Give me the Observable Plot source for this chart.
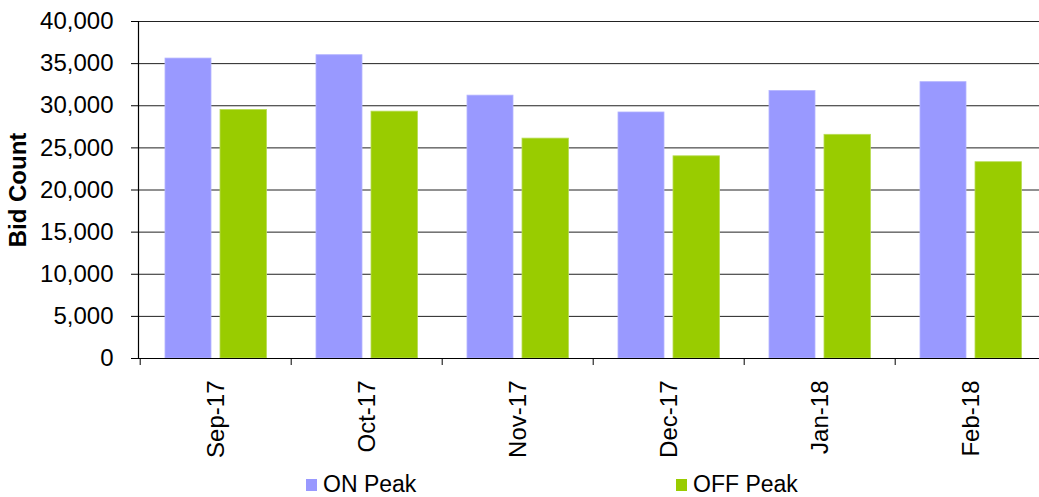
<!DOCTYPE html>
<html><head><meta charset="utf-8">
<script src="https://cdn.jsdelivr.net/npm/d3@7"></script>
<script src="https://cdn.jsdelivr.net/npm/@observablehq/plot@0.6"></script>
<style>
html,body{margin:0;padding:0;background:#fff;overflow:hidden;font-family:"Liberation Sans",Arial,sans-serif;}
#legend{position:relative;height:27px;width:1039px;}
.sw{position:absolute;width:11px;height:12px;}
.lt{position:absolute;font-size:23px;line-height:23px;color:#000;white-space:nowrap;}
</style>
</head><body><div id="chart"></div><div id="legend"></div>
<script>
const months = ["Sep-17","Oct-17","Nov-17","Dec-17","Jan-18","Feb-18"];
const onPeak = [35600,36000,31200,29200,31750,32800];
const offPeak = [29500,29300,26100,24000,26550,23300];
const seriesNames = ["ON Peak","OFF Peak"];
const seriesColors = ["#9999FF","#99CC00"];
const yTicks = [0,5000,10000,15000,20000,25000,30000,35000,40000];
const yLabel = "Bid Count";

const onData = months.map((m,i)=>({month:m, value:onPeak[i]}));
const offData = months.map((m,i)=>({month:m, value:offPeak[i]}));

const W = 1039, H = 470;
const x0 = 138.3, x1 = 1048;
const bw = (x1 - x0) / months.length;

const chart = Plot.plot({
  width: W, height: H,
  marginLeft: 138, marginRight: 0, marginTop: 21, marginBottom: 112,
  style: {fontFamily: '"Liberation Sans", Arial, sans-serif', fontSize: "24px", color: "#000", background: "#fff"},
  x: {domain: months, range: [x0, x1], padding: 0, label: null},
  y: {domain: [0, 40000], range: [358, 21], label: null},
  marks: [
    Plot.gridY(yTicks, {stroke: "#222", strokeOpacity: 1, strokeWidth: 1}),
    Plot.barY(onData, {x: "month", y: "value", fill: seriesColors[0], insetLeft: 25, insetRight: 80, stroke: "#b3b3ff", strokeWidth: 0.8}),
    Plot.barY(offData, {x: "month", y: "value", fill: seriesColors[1], insetLeft: 80, insetRight: 24.5, stroke: "#b8dd55", strokeWidth: 0.8}),
    Plot.ruleY([0], {stroke: "#000", strokeWidth: 1.2}),
    Plot.frame({anchor: "left", stroke: "#000", strokeWidth: 1.2}),
    Plot.axisY({ticks: yTicks, tickFormat: d3.format(","), tickSize: 7, tickPadding: 18, fontSize: 24, label: null, stroke: "#000"}),
    Plot.axisX({tickSize: 7, text: null, dx: -bw/2, stroke: "#000", label: null}),
    Plot.axisX({tickSize: 0, tickPadding: 22, tickRotate: -90, fontSize: 24, label: null}),
    Plot.text([yLabel], {frameAnchor: "left", textAnchor: "middle", rotate: -90, dx: -120, fontWeight: "bold", fontSize: 24, fill: "#000"})
  ]
});
document.getElementById("chart").appendChild(chart);

const legend = document.getElementById("legend");
const swLeft = [306, 676];
const txLeft = [323, 693];
seriesNames.forEach((name, i) => {
  const sw = document.createElement("div");
  sw.className = "sw";
  sw.style.left = swLeft[i] + "px";
  sw.style.top = (479 - H) + "px";
  sw.style.background = seriesColors[i];
  legend.appendChild(sw);
  const t = document.createElement("div");
  t.className = "lt";
  t.style.left = txLeft[i] + "px";
  t.style.top = (473 - H) + "px";
  t.textContent = name;
  legend.appendChild(t);
});
</script>
</body></html>
